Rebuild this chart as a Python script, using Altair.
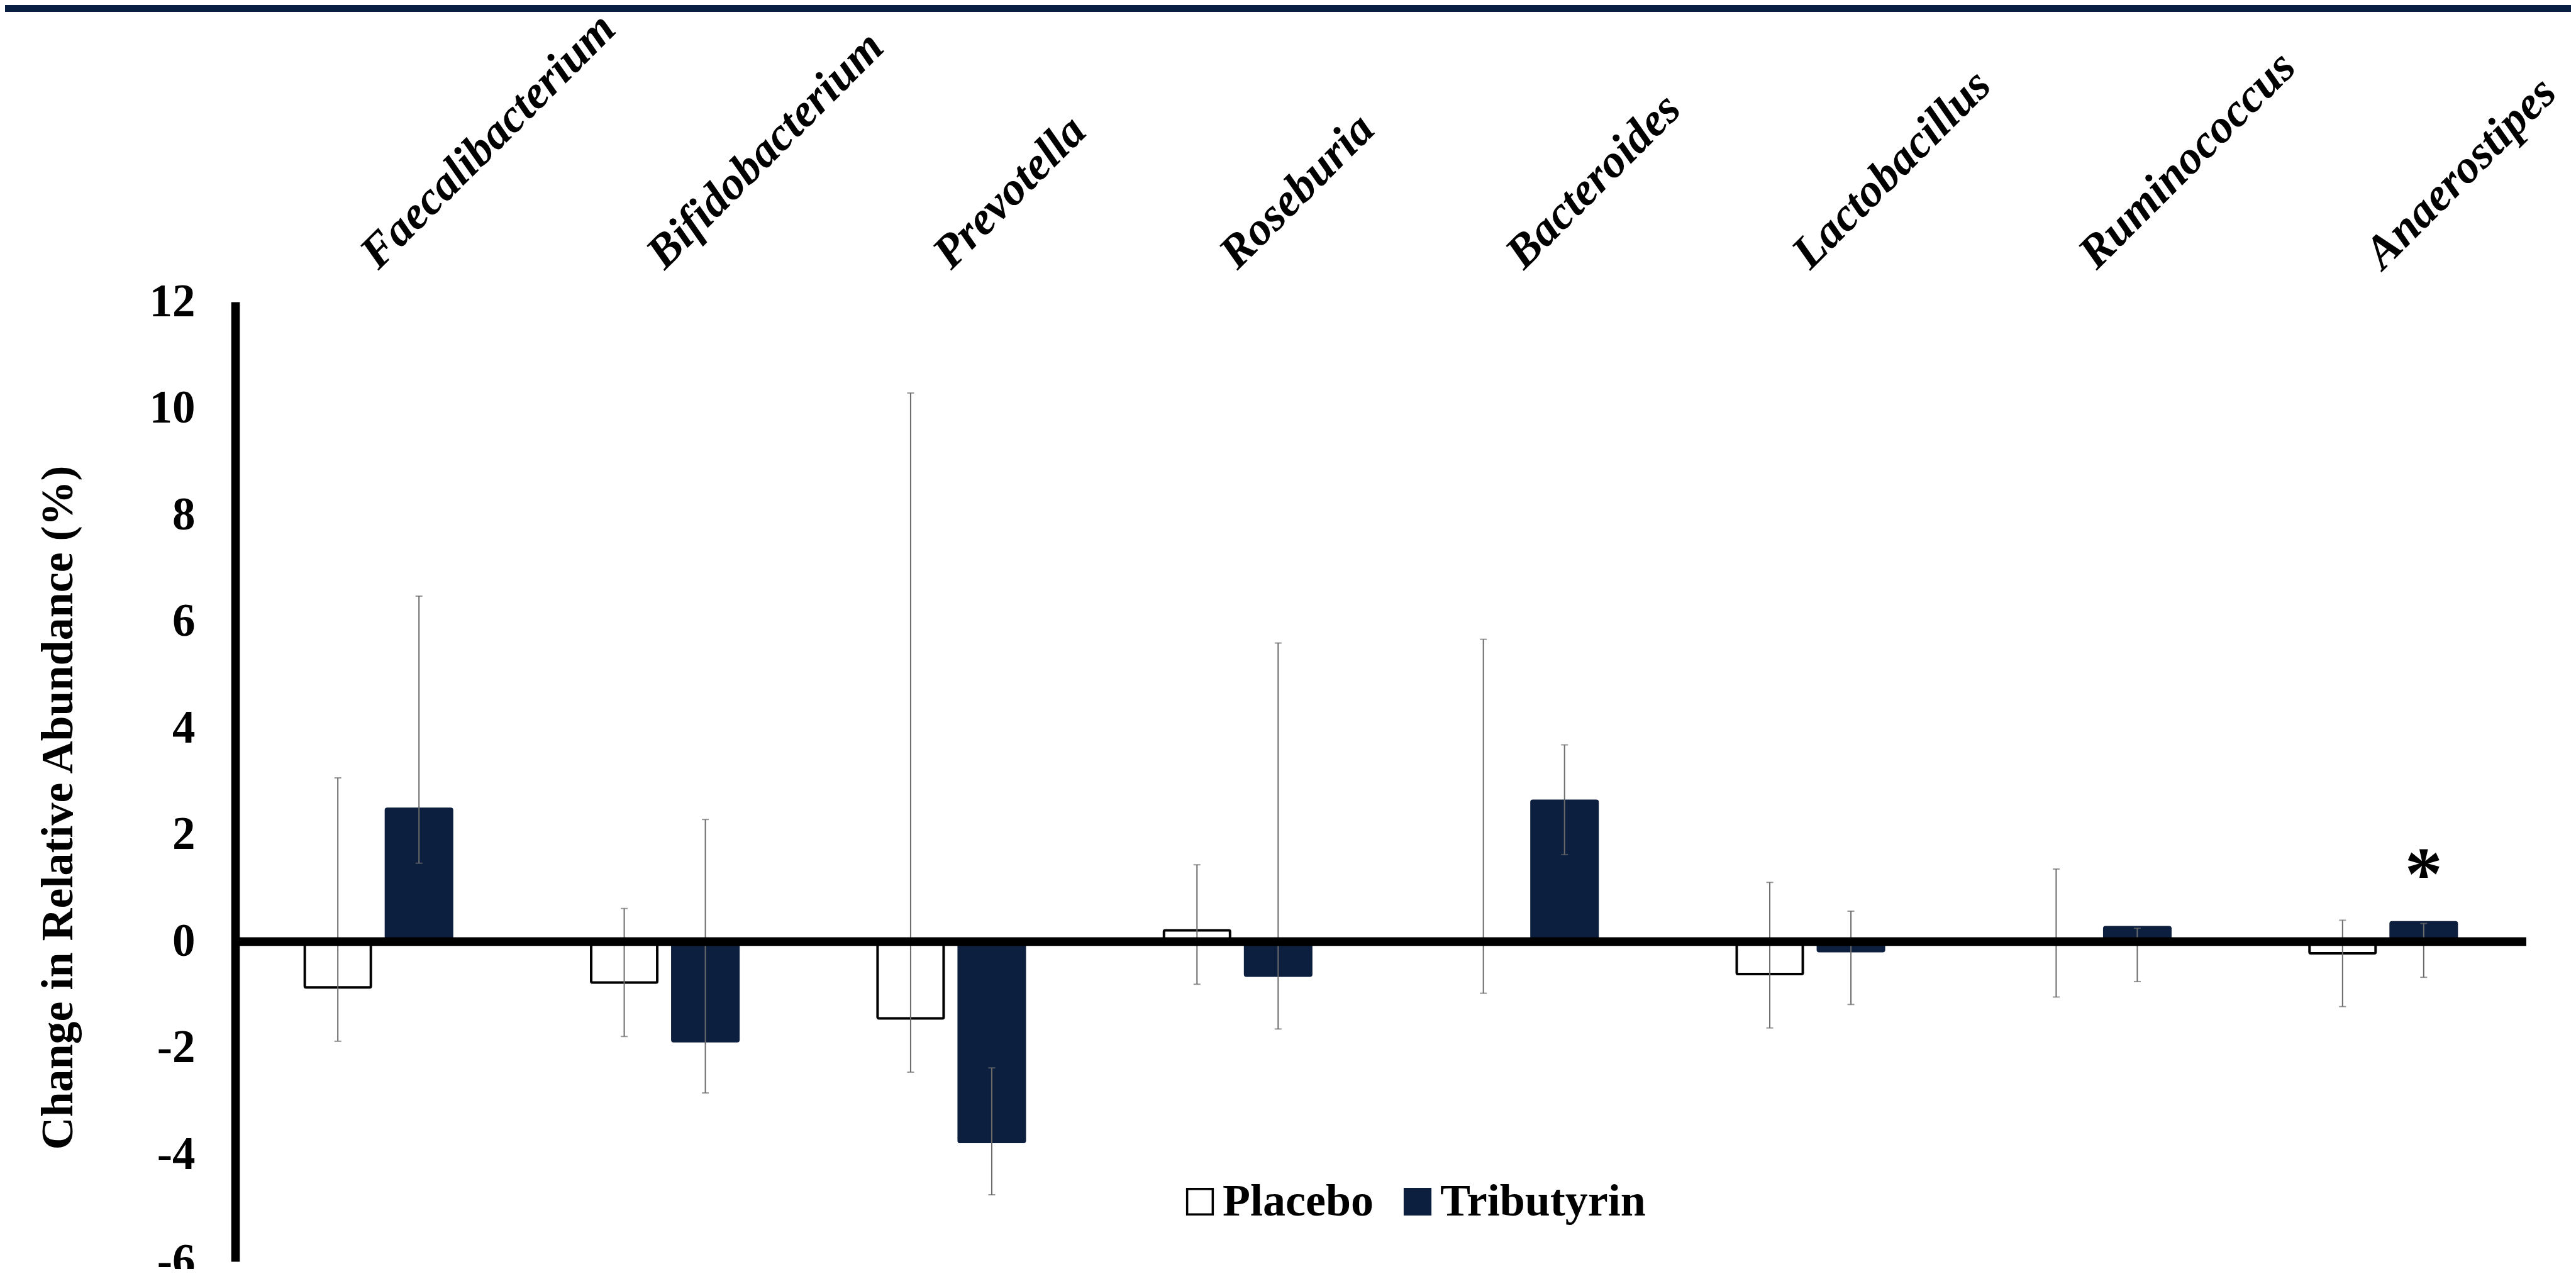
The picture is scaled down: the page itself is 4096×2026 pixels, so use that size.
import altair as alt
import pandas as pd

categories = ["Faecalibacterium", "Bifidobacterium", "Prevotella", "Roseburia",
              "Bacteroides", "Lactobacillus", "Ruminococcus", "Anaerostipes"]
groups = ["Placebo", "Tributyrin"]

placebo_mean = [-0.86, -0.77, -1.44, 0.21, 0.0, -0.61, 0.0, -0.22]
placebo_hi = [3.07, 0.62, 10.29, 1.44, 5.67, 1.11, 1.36, 0.40]
placebo_lo = [-1.87, -1.78, -2.45, -0.80, -0.97, -1.62, -1.04, -1.22]

tribu_mean = [2.49, -1.87, -3.76, -0.64, 2.64, -0.18, 0.27, 0.36]
tribu_hi = [6.48, 2.29, -2.37, 5.60, 3.69, 0.57, 0.25, 0.34]
tribu_lo = [1.47, -2.84, -4.75, -1.64, 1.63, -1.18, -0.75, -0.67]

y_ticks = [-6, -4, -2, 0, 2, 4, 6, 8, 10, 12]

sig_genus = ["Anaerostipes"]
sig_group = ["Tributyrin"]
sig_y = [1.22]
sig_text = ["*"]

rows = []
for i, c in enumerate(categories):
    rows.append(dict(genus=c, group="Placebo", value=placebo_mean[i],
                     lo=placebo_lo[i], hi=placebo_hi[i]))
    rows.append(dict(genus=c, group="Tributyrin", value=tribu_mean[i],
                     lo=tribu_lo[i], hi=tribu_hi[i]))
df = pd.DataFrame(rows)

NAVY = "#0C1F3F"
TOP = "#0A1F44"
GREY = "#6B6B6B"
FONT = "Liberation Serif"
W, H = 3643, 1526

x_axis = alt.Axis(orient="top", title=None, domain=False, ticks=False, tickSize=0,
                  labelAngle=315, labelAlign="left", labelBaseline="alphabetic",
                  labelPadding=50, labelFont=FONT, labelFontStyle="italic",
                  labelFontWeight="bold", labelFontSize=74, labelColor="black",
                  labelLimit=3000)
x_enc = alt.X("genus:N", sort=categories,
              scale=alt.Scale(paddingInner=0.486, paddingOuter=0.243),
              axis=x_axis)
xo_enc = alt.XOffset("group:N", sort=groups,
                     scale=alt.Scale(paddingInner=0.186, paddingOuter=0))

y_scale = alt.Scale(domain=[-6, 12], nice=False)
y_axis = alt.Axis(values=y_ticks, grid=False, ticks=False, tickSize=0,
                  domain=True, domainColor="black", domainWidth=13.6,
                  labelFont=FONT, labelFontWeight="bold", labelFontSize=73,
                  labelColor="black", labelPadding=64, labelExpr="'' + datum.value",
                  title="Change in Relative Abundance (%)", titleFont=FONT,
                  titleFontWeight="bold", titleFontSize=72, titleColor="black",
                  titleAngle=270, titleX=-245, titleY=804, titleAlign="center",
                  titleBaseline="bottom")

legend = alt.Legend(title=None, orient="none", legendX=1498, legendY=1395,
                    direction="horizontal", symbolType="square", symbolSize=1656,
                    symbolStrokeWidth=3.5, labelFont=FONT, labelFontWeight="bold",
                    labelFontSize=72, labelColor="black", labelOffset=0,
                    columnPadding=34, labelLimit=2000, padding=0)

base = alt.Chart(df)

bars = base.mark_bar(strokeWidth=4, cornerRadius=2).encode(
    x=x_enc, xOffset=xo_enc,
    y=alt.Y("value:Q", scale=y_scale, axis=y_axis),
    y2=alt.datum(0),
    fill=alt.Fill("group:N", sort=groups,
                  scale=alt.Scale(domain=groups, range=["white", NAVY]), legend=legend),
    stroke=alt.Stroke("group:N", sort=groups,
                      scale=alt.Scale(domain=groups, range=["black", NAVY]), legend=legend),
)

err = base.mark_rule(color=GREY, strokeWidth=2).encode(
    x=x_enc, xOffset=xo_enc,
    y=alt.Y("lo:Q", scale=y_scale, axis=y_axis),
    y2="hi:Q",
)
cap_hi = base.mark_tick(color=GREY, thickness=2, size=11).encode(
    x=x_enc, xOffset=xo_enc,
    y=alt.Y("hi:Q", scale=y_scale, axis=y_axis),
)
cap_lo = base.mark_tick(color=GREY, thickness=2, size=11).encode(
    x=x_enc, xOffset=xo_enc,
    y=alt.Y("lo:Q", scale=y_scale, axis=y_axis),
)

zero_line = alt.Chart(pd.DataFrame({"z": [0]})).mark_rule(
    color="black", strokeWidth=13.6).encode(
    y=alt.Y("z:Q", scale=y_scale, axis=y_axis),
    x=alt.value(0), x2=alt.value(W),
)

sig = alt.Chart(pd.DataFrame({"genus": sig_genus, "group": sig_group,
                              "sy": sig_y, "t": sig_text})).mark_text(
    font=FONT, fontSize=120, fontWeight="bold", baseline="middle",
    align="center", color="black").encode(
    x=x_enc, xOffset=xo_enc,
    y=alt.Y("sy:Q", scale=y_scale, axis=y_axis),
    text="t:N",
)

top_strip = alt.Chart(pd.DataFrame({"a": [0]})).mark_rect(color=TOP).encode(
    x=alt.value(-366), x2=alt.value(W + 71),
    y=alt.value(-472), y2=alt.value(-461),
)

chart = alt.layer(top_strip, bars, err, cap_hi, cap_lo, zero_line, sig).properties(
    width=W, height=H,
    padding={"left": 366, "top": 472, "right": 71, "bottom": 12},
    autosize=alt.AutoSizeParams(type="none"),
    background="white",
).configure_view(stroke=None)

chart.save("out.html", embed_options={"renderer": "svg", "actions": False})
